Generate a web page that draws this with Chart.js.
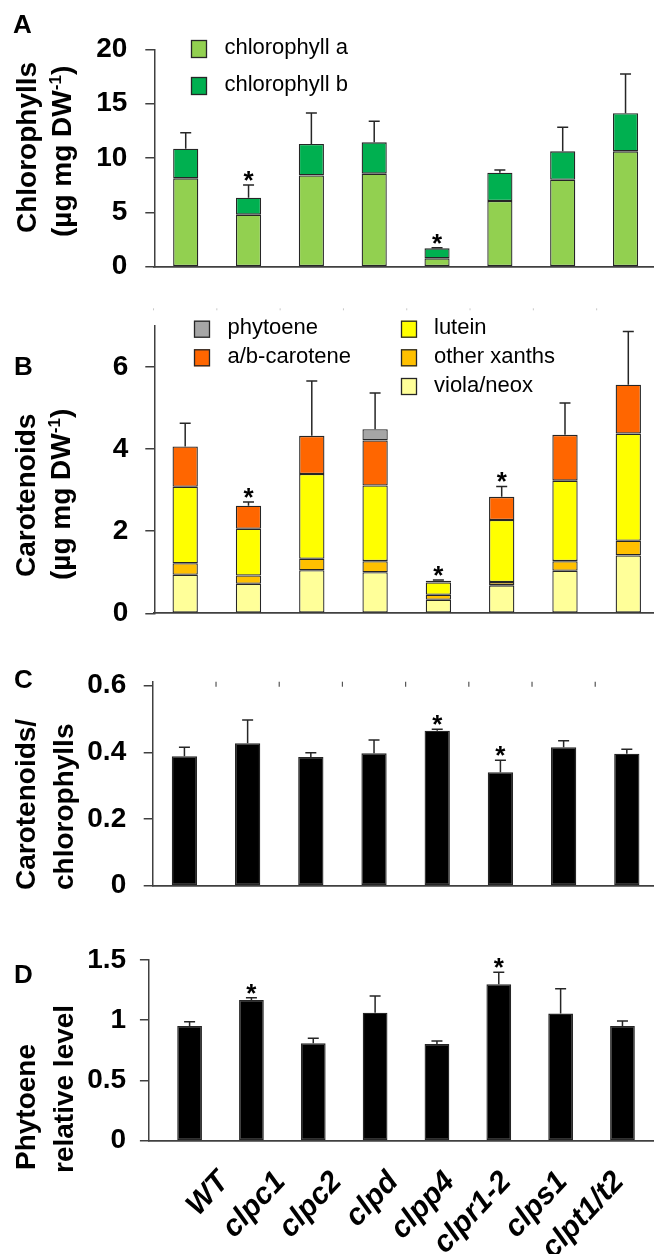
<!DOCTYPE html>
<html>
<head>
<meta charset="utf-8">
<script src="https://cdn.jsdelivr.net/npm/chart.js@4.4.1/dist/chart.umd.min.js"></script>
<style>
html,body{margin:0;padding:0;background:#fff;overflow:hidden;}
#wrap{position:relative;width:654px;height:1254px;}
#wrap canvas{position:absolute;left:0;}
</style>
</head>
<body>
<div id="wrap">
<canvas id="cA" width="654" height="290" style="top:0px;width:654px;height:290px"></canvas>
<canvas id="cB" width="654" height="355" style="top:290px;width:654px;height:355px"></canvas>
<canvas id="cC" width="654" height="270" style="top:640px;width:654px;height:270px"></canvas>
<canvas id="cD" width="654" height="354" style="top:900px;width:654px;height:354px"></canvas>
</div>
<script>
// ---------- data ----------
const categories = ['WT','clpc1','clpc2','clpd','clpp4','clpr1-2','clps1','clpt1/t2'];

// Panel A: chlorophylls
const chlA   = [8.13, 4.79, 8.40, 8.56, 0.77, 6.04, 8.00, 10.61];
const chlB   = [2.73, 1.56, 2.89, 2.88, 0.92, 2.61, 2.61, 3.50];
const chlSD  = [1.47, 1.17, 2.85, 1.93, 0.06, 0.25, 2.21, 3.62];
const chlStar = [0,1,0,0,1,0,0,0];
const yTicksA = [0,5,10,15,20];
const yLabelsA = ['0','5','10','15','20'];

// Panel B: carotenoids
const violaNeox   = [0.94, 0.72, 1.05, 1.00, 0.33, 0.68, 1.035, 1.41];
const otherXanths = [0.28, 0.20, 0.28, 0.27, 0.12, 0.08, 0.235, 0.355];
const lutein      = [1.86, 1.14, 2.06, 1.84, 0.30, 1.51, 1.96, 2.61];
const abCarotene  = [0.98, 0.56, 0.93, 1.10, 0.04, 0.565, 1.115, 1.19];
const phytoene    = [null, null, null, 0.27, null, null, null, null];
const carSD  = [0.57, 0.09, 1.335, 0.885, 0.02, 0.255, 0.775, 1.295];
const carStar = [0,1,0,0,1,1,0,0];
const yTicksB = [0,2,4,6];
const yLabelsB = ['0','2','4','6'];

// Panel C: carotenoids / chlorophylls
const carChlRatio = [0.388, 0.427, 0.386, 0.397, 0.465, 0.340, 0.415, 0.396];
const ratioSD     = [0.027, 0.070, 0.013, 0.040, 0.004, 0.036, 0.020, 0.013];
const ratioStar = [0,0,0,0,1,1,0,0];
const yTicksC = [0,0.2,0.4,0.6];
const yLabelsC = ['0','0.2','0.4','0.6'];

// Panel D: phytoene relative level
const phytoeneRel = [0.952, 1.168, 0.808, 1.063, 0.803, 1.298, 1.055, 0.952];
const phytoeneSD  = [0.036, 0.019, 0.042, 0.138, 0.025, 0.100, 0.207, 0.042];
const phytoeneStar = [0,1,0,0,0,1,0,0];
const yTicksD = [0,0.5,1,1.5];
const yLabelsD = ['0','0.5','1','1.5'];

// ---------- styling ----------
const FONT = "'Liberation Sans', Arial, Helvetica, sans-serif";
Chart.defaults.font.family = FONT;
Chart.defaults.color = '#000';
const AXIS = '#404040';
const EDGE = '#262626';

function pts(arr){ return arr.map((v,i)=>({x:i,y:v})).filter(p=>p.y!==null); }
function ds(label, arr, color){
  return { label, data: pts(arr), xAxisID:'x', backgroundColor: color, borderColor: EDGE,
           borderWidth: 1.3, borderSkipped: false, barPercentage: 0.4, categoryPercentage: 1.0 };
}
function xScale(min, max){
  return { type:'linear', position:'bottom', min, max, stacked:true, offset:false,
    afterBuildTicks: s => { s.ticks = categories.map((c,i)=>({value:i})); },
    afterFit: s => { s.height = 0; s.paddingLeft = 0; s.paddingRight = 0; },
    ticks:{display:false}, grid:{display:false, drawTicks:false},
    border:{display:true, color:AXIS, width:1.7} };
}
function yScale(max, tv, tl, width, pad){
  return { type:'linear', position:'left', min:0, max, stacked:true,
    afterBuildTicks: s => { s.ticks = tv.map(v=>({value:v})); },
    afterFit: s => { s.width = width; s.paddingTop = 0; s.paddingBottom = 0; },
    ticks:{ font:{size:28, weight:'bold'}, color:'#000', padding: pad,
            callback: v => tl[tv.indexOf(v)] },
    grid:{ display:true, drawOnChartArea:false, drawTicks:true, tickLength:9, color:AXIS, lineWidth:1.5 },
    border:{display:true, color:AXIS, width:1.5} };
}

const extras = {
  id: 'extras',
  afterDatasetsDraw(chart, args, o){
    const ctx = chart.ctx, xs = chart.scales.x, ys = chart.scales.y;
    ctx.save();
    if (o.sd) {
      o.sd.forEach((sd, i) => {
        let total = 0;
        chart.data.datasets.forEach(d => { const p = d.data.find(q => q.x === i); if (p) total += p.y; });
        const px = xs.getPixelForValue(i);
        const y0 = ys.getPixelForValue(total), y1 = ys.getPixelForValue(total + sd);
        ctx.strokeStyle = EDGE; ctx.lineWidth = 1.5;
        ctx.beginPath();
        ctx.moveTo(px, y0); ctx.lineTo(px, y1);
        ctx.moveTo(px - 5.5, y1); ctx.lineTo(px + 5.5, y1);
        ctx.stroke();
        if (o.stars && o.stars[i]) {
          ctx.fillStyle = '#000'; ctx.font = 'bold 26px ' + FONT;
          ctx.textAlign = 'center'; ctx.textBaseline = 'alphabetic';
          ctx.fillText('*', px, y1 + 4);
        }
      });
    }
    ctx.restore();
  },
  afterDraw(chart, args, o){
    const ctx = chart.ctx, xs = chart.scales.x, area = chart.chartArea;
    ctx.save();
    // small marks at category boundaries along the top
    if (o.topTicks) {
      const t = o.topTicks;
      ctx.strokeStyle = t.color; ctx.lineWidth = t.width;
      for (let i = t.from; i < categories.length - 1; i++) {
        const px = (xs.getPixelForValue(i) + xs.getPixelForValue(i + 1)) / 2;
        ctx.beginPath(); ctx.moveTo(px, area.top + t.y0); ctx.lineTo(px, area.top + t.y1); ctx.stroke();
      }
    }
    // rotated y titles
    if (o.titles) {
      o.titles.forEach(t => {
        ctx.save();
        ctx.translate(t.x, t.y);
        ctx.rotate(-Math.PI / 2);
        ctx.fillStyle = '#000'; ctx.textAlign = 'left'; ctx.textBaseline = 'alphabetic';
        let cx = 0;
        t.parts.forEach(p => {
          const size = p.sup ? Math.round(t.size * 0.62) : t.size;
          ctx.font = 'bold ' + size + 'px ' + FONT;
          ctx.fillText(p.text, cx, p.sup ? -t.size * 0.36 : 0);
          cx += ctx.measureText(p.text).width;
        });
        ctx.restore();
      });
    }
    // panel letter
    if (o.letter) {
      ctx.fillStyle = '#000'; ctx.font = 'bold 26px ' + FONT;
      ctx.textAlign = 'left'; ctx.textBaseline = 'alphabetic';
      ctx.fillText(o.letter.text, o.letter.x, o.letter.y);
    }
    // legend
    if (o.legend) {
      o.legend.forEach(l => {
        const d = chart.data.datasets[l.ds];
        ctx.fillStyle = d.backgroundColor;
        ctx.fillRect(l.bx, l.by, l.w, l.h);
        ctx.strokeStyle = EDGE; ctx.lineWidth = 1.3;
        ctx.strokeRect(l.bx + 0.5, l.by + 0.5, l.w - 1, l.h - 1);
        ctx.fillStyle = '#000'; ctx.font = '22px ' + FONT;
        ctx.textAlign = 'left'; ctx.textBaseline = 'middle';
        ctx.fillText(d.label, l.tx, l.by + l.h / 2 - 1);
      });
    }
    ctx.restore();
  }
};

function base(datasets, scales, padding, extrasOpts){
  return {
    type: 'bar',
    data: { datasets },
    options: {
      responsive: false, animation: false, devicePixelRatio: 1,
      layout: { padding },
      scales,
      plugins: { legend:{display:false}, tooltip:{enabled:false}, extras: extrasOpts }
    },
    plugins: [extras]
  };
}

const DWparts = [{text:'(\u00b5g mg DW'},{text:'-1', sup:true},{text:')'}];

// Panel A
new Chart(document.getElementById('cA'), base(
  [ ds('chlorophyll a', chlA, '#92d050'), ds('chlorophyll b', chlB, '#00b050') ],
  { x: xScale(-0.5, 7.453), y: yScale(20, yTicksA, yLabelsA, 154.3, 18) },
  { top: 49.3, bottom: 23.3, left: 0, right: 0 },
  { sd: chlSD, stars: chlStar,
    titles: [ {x:35.5, y:233, size:28, parts:[{text:'Chlorophylls'}]},
              {x:71, y:237, size:28, parts:DWparts} ],
    letter: {text:'A', x:13, y:33.3},
    legend: [ {ds:0, bx:191, by:40, w:16, h:18, tx:224.4},
              {ds:1, bx:191, by:77, w:16, h:18, tx:224.4} ] }
));

// Panel B
new Chart(document.getElementById('cB'), base(
  [ ds('viola/neox', violaNeox, '#ffff99'), ds('other xanths', otherXanths, '#ffc000'),
    ds('lutein', lutein, '#ffff00'), ds('a/b-carotene', abCarotene, '#ff6600'),
    ds('phytoene', phytoene, '#a6a6a6') ],
  { x: xScale(-0.488, 7.406), y: yScale(7, yTicksB, yLabelsB, 154.3, 17) },
  { top: 35.8, bottom: 31.7, left: 0, right: 0 },
  { sd: carSD, stars: carStar,
    topTicks: {from:-1, y0:-17.5, y1:-15.5, color:'#c8c8c8', width:1},
    titles: [ {x:34.6, y:287, size:28, parts:[{text:'Carotenoids'}]},
              {x:70, y:290, size:28, parts:DWparts} ],
    letter: {text:'B', x:14, y:85},
    legend: [ {ds:4, bx:194, by:30.7, w:16, h:17, tx:227.5},
              {ds:3, bx:194, by:59.3, w:16, h:17, tx:227.5},
              {ds:2, bx:401, by:30.7, w:16, h:17, tx:434},
              {ds:1, bx:401, by:59.3, w:16, h:17, tx:434},
              {ds:0, bx:401, by:88, w:16, h:17, tx:434} ] }
));

// Panel C
new Chart(document.getElementById('cC'), base(
  [ ds('carotenoids/chlorophylls', carChlRatio, '#000000') ],
  { x: xScale(-0.502, 7.43), y: yScale(0.612, yTicksC, yLabelsC, 152.7, 17.5) },
  { top: 41.7, bottom: 24.3, left: 0, right: 0 },
  { sd: ratioSD, stars: ratioStar,
    topTicks: {from:0, y0:0, y1:5, color:'#555555', width:1.2},
    titles: [ {x:35, y:250, size:28, parts:[{text:'Carotenoids/'}]},
              {x:72.5, y:250, size:28, parts:[{text:'chlorophylls'}]} ],
    letter: {text:'C', x:14, y:48.3} }
));

// Panel D
const scalesD = {
  x: xScale(-0.658, 7.51),
  xl: { type:'linear', position:'bottom', min:-0.772, max:7.059,
    afterBuildTicks: s => { s.ticks = categories.map((c,i)=>({value:i})); },
    afterFit: s => { s.height = 113.3; s.paddingLeft = 0; s.paddingRight = 0; },
    ticks:{ autoSkip:false, minRotation:47, maxRotation:47, padding:24,
            font:{size:30, weight:'bold', style:'italic'}, color:'#000',
            callback: v => categories[v] },
    grid:{display:false, drawTicks:false}, border:{display:false} },
  y: yScale(1.5, yTicksD, yLabelsD, 148.9, 13.8)
};
new Chart(document.getElementById('cD'), base(
  [ ds('phytoene relative level', phytoeneRel, '#000000') ],
  scalesD,
  { top: 60, bottom: 0, left: 0, right: 0 },
  { sd: phytoeneSD, stars: phytoeneStar,
    titles: [ {x:35, y:270, size:28, parts:[{text:'Phytoene'}]},
              {x:73, y:273, size:28, parts:[{text:'relative level'}]} ],
    letter: {text:'D', x:14, y:83} }
));
</script>
</body>
</html>
